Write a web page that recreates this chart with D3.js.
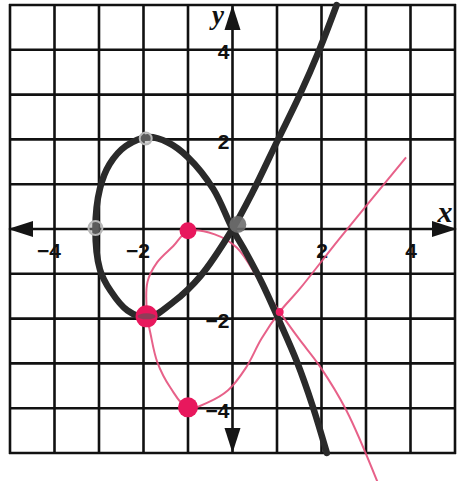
<!DOCTYPE html>
<html>
<head>
<meta charset="utf-8">
<script src="https://cdn.jsdelivr.net/npm/d3@7"></script>
<style>
  html, body { margin: 0; padding: 0; background: #fff; }
  svg { display: block; }
</style>
</head>
<body>
<svg id="chart" width="458" height="481"></svg>
<script>
// Grid extent and labelled ticks
const gridValues = d3.range(-5, 6);
const xTickLabels = [-4, -2, 2, 4];
const yTickLabels = [4, 2, -2, -4];

// Heavy black curve (a loop crossing itself at the origin), in drawing order
const blackCurve = [
  [2.12, -5.0], [1.8, -3.95], [1.45, -2.97], [1.05, -2.05], [0.66, -1.2], [0.3, -0.52], [0, 0],
  [-0.43, 0.89], [-1.0, 1.6], [-1.45, 1.93], [-1.9, 2.05], [-2.4, 1.85], [-2.76, 1.45],
  [-2.98, 0.9], [-3.08, 0], [-2.98, -0.9], [-2.74, -1.38], [-2.36, -1.82], [-1.9, -1.98],
  [-1.33, -1.63], [-0.72, -1.05], [0, 0], [0.45, 0.82], [1.0, 1.95], [1.5, 2.97],
  [1.96, 4.02], [2.34, 5.0]
];

// Thin pink curve, in drawing order
const pinkCurve = [
  [3.9, 1.6], [2.4, -0.22], [1.5, -1.35], [1.06, -1.85], [0.65, -2.45], [0.3, -3.1],
  [-0.1, -3.6], [-0.55, -3.87], [-1.0, -4.0], [-1.39, -3.55], [-1.69, -2.97], [-1.84, -2.35],
  [-1.92, -1.9], [-1.91, -1.18], [-1.69, -0.74], [-1.33, -0.38], [-1.0, -0.05],
  [-0.4, -0.12], [0.1, -0.42], [0.6, -1.15], [1.06, -1.85], [1.5, -2.46], [1.96, -3.06],
  [2.56, -4.05], [3.3, -5.75]
];

// Marked points
const pinkPoints = [[-1, -0.04], [-1.93, -1.95], [-1, -3.98]];
const pinkRadius = [8.5, 11, 10];
const grayPoints = [[0.12, 0.1], [-1.95, 2.02], [-3.08, 0.02]];
const grayRadius = [8.5, 6, 7];

const svg = d3.select("#chart");
const x = d3.scaleLinear().domain([-5, 5]).range([10, 455]);
const y = d3.scaleLinear().domain([-5, 5]).range([453, 5]);

// Grid
const grid = svg.append("g").attr("stroke", "#111").attr("stroke-width", 2.6);
grid.selectAll("line.v").data(gridValues).join("line")
  .attr("class", "v")
  .attr("x1", d => x(d)).attr("x2", d => x(d))
  .attr("y1", y(5) - 1).attr("y2", y(-5) + 1);
grid.selectAll("line.h").data(gridValues).join("line")
  .attr("class", "h")
  .attr("y1", d => y(d)).attr("y2", d => y(d))
  .attr("x1", x(-5) - 1).attr("x2", x(5) + 1);

// Axis arrowheads
const arrows = svg.append("g").attr("fill", "#151515");
const aLen = 25, aHalf = 8;
arrows.append("path").attr("d", `M${x(5) + 2},${y(0)} l${-aLen},${-aHalf} l0,${2 * aHalf}Z`);
arrows.append("path").attr("d", `M${x(-5) - 2},${y(0)} l${aLen},${-aHalf} l0,${2 * aHalf}Z`);
arrows.append("path").attr("d", `M${x(0)},${y(5)} l${-aHalf},${aLen} l${2 * aHalf},0Z`);
arrows.append("path").attr("d", `M${x(0)},${y(-5)} l${-aHalf},${-aLen} l${2 * aHalf},0Z`);

// Tick labels through d3 axes
const fmt = d => (d < 0 ? "\u2212" : "") + Math.abs(d);
const xAxis = svg.append("g")
  .attr("transform", `translate(0,${y(0)})`)
  .call(d3.axisBottom(x).tickValues(xTickLabels).tickSize(0).tickFormat(fmt));
xAxis.select(".domain").remove();
xAxis.selectAll("text")
  .attr("y", 29).attr("dy", null)
  .attr("text-anchor", d => d < 0 ? "end" : "middle")
  .attr("x", d => d < 0 ? 6 : 0);

const yAxis = svg.append("g")
  .attr("transform", `translate(${x(0)},0)`)
  .call(d3.axisLeft(y).tickValues(yTickLabels).tickSize(0).tickFormat(fmt));
yAxis.select(".domain").remove();
yAxis.selectAll("text")
  .attr("x", -3).attr("dy", "0.42em")
  .attr("text-anchor", "end");

svg.selectAll(".tick text")
  .attr("fill", "#111")
  .style("font-family", "'Liberation Sans', Arial, sans-serif")
  .style("font-weight", "bold")
  .style("font-size", "21px");

// Axis names
svg.append("text").attr("x", 445).attr("y", 222).text("x")
  .attr("text-anchor", "middle")
  .style("font-family", "'Liberation Serif', serif")
  .style("font-style", "italic").style("font-weight", "bold")
  .style("font-size", "30px").attr("fill", "#111");
svg.append("text").attr("x", 218).attr("y", 24).text("y")
  .attr("text-anchor", "middle")
  .style("font-family", "'Liberation Serif', serif")
  .style("font-style", "italic").style("font-weight", "bold")
  .style("font-size", "27px").attr("fill", "#111");

const line = d3.line()
  .x(d => x(d[0])).y(d => y(d[1]))
  .curve(d3.curveCatmullRom.alpha(0.5));

// Pink curve
svg.append("path").datum(pinkCurve)
  .attr("d", line)
  .attr("fill", "none")
  .attr("stroke", "#e4507c")
  .attr("stroke-width", 2)
  .attr("stroke-opacity", 0.9);

// Black curve
svg.append("path").datum(blackCurve)
  .attr("d", line)
  .attr("fill", "none")
  .attr("stroke", "#2a2a2a")
  .attr("stroke-width", 6.5)
  .attr("stroke-linecap", "round")
  .attr("stroke-linejoin", "round");

// Pink markers
svg.append("g").selectAll("circle").data(pinkPoints).join("circle")
  .attr("cx", d => x(d[0])).attr("cy", d => y(d[1]))
  .attr("r", (d, i) => pinkRadius[i])
  .attr("fill", "#e8185d");

// Gray markers on the black curve
svg.append("g").selectAll("circle").data(grayPoints).join("circle")
  .attr("cx", d => x(d[0])).attr("cy", d => y(d[1]))
  .attr("r", (d, i) => grayRadius[i])
  .attr("fill", (d, i) => i === 0 ? "#6f6f6f" : "#9a9a9a")
  .attr("fill-opacity", (d, i) => i === 0 ? 0.9 : 0.45)
  .attr("stroke", (d, i) => i === 0 ? "none" : "#b8b8b8")
  .attr("stroke-width", 2);

// Gray band across the pink marker where the black curve passes
svg.append("ellipse")
  .attr("cx", x(pinkPoints[1][0])).attr("cy", y(pinkPoints[1][1]))
  .attr("rx", 9).attr("ry", 3)
  .attr("fill", "#555").attr("fill-opacity", 0.6);

// Bright spot where the pink curve crosses itself
svg.append("circle")
  .attr("cx", x(pinkCurve[3][0])).attr("cy", y(pinkCurve[3][1]))
  .attr("r", 4).attr("fill", "#ee1f63");
</script>
</body>
</html>
